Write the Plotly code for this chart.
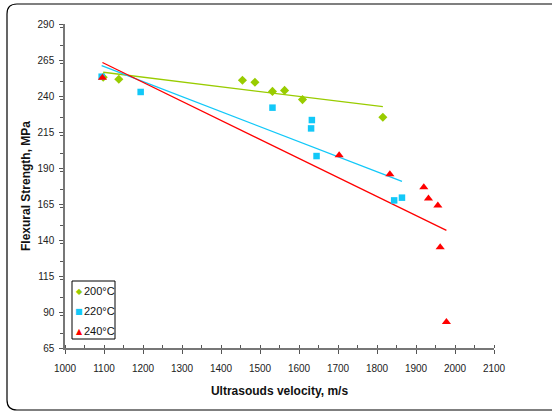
import numpy as np
import plotly.graph_objects as go

series_names = ["200°C", "220°C", "240°C"]
x_200 = [1098, 1138, 1455, 1487, 1532, 1563, 1609, 1815]
y_200 = [253.0, 251.6, 250.9, 249.5, 243.2, 243.9, 237.5, 225.2]
x_220 = [1094, 1194, 1532, 1633, 1631, 1645, 1844, 1864]
y_220 = [253.4, 242.8, 231.9, 223.3, 217.5, 198.3, 167.5, 169.4]
x_240 = [1096, 1703, 1833, 1920, 1932, 1956, 1962, 1978]
y_240 = [252.7, 198.8, 185.6, 176.6, 168.9, 163.9, 134.9, 83.1]

x_ticks = list(range(1000, 2101, 100))
y_ticks = list(range(65, 291, 25))

colors = ["#99cc00", "#12c8f8", "#ff0000"]
symbols = ["diamond", "square", "triangle-up"]
sizes = [7, 6.5, 8]
legend_glyphs = ["◆", "■", "▲"]

fig = go.Figure()
data = [(x_200, y_200), (x_220, y_220), (x_240, y_240)]

# trend lines (linear least squares fit over each series' range)
for (xs, ys), c in zip(data, colors):
    k, b = np.polyfit(xs, ys, 1)
    xl = np.array([min(xs), max(xs)])
    fig.add_trace(go.Scatter(x=xl, y=k * xl + b, mode="lines",
                             line=dict(color=c, width=1.3),
                             showlegend=False, hoverinfo="skip"))

for (xs, ys), name, c, s, sz in zip(data, series_names, colors, symbols, sizes):
    fig.add_trace(go.Scatter(x=xs, y=ys, mode="markers", name=name, showlegend=False,
                             marker=dict(color=c, symbol=s, size=sz, line=dict(width=0))))

FONT = "Liberation Sans, Arial, sans-serif"
axis_font = dict(family=FONT, size=10, color="#222222")
title_font = dict(family=FONT, size=12, color="#111111")

fig.update_xaxes(range=[1000, 2100], tickvals=x_ticks, ticktext=[str(v) for v in x_ticks],
                 showgrid=False, zeroline=False, showline=True, linecolor="#777777", linewidth=1.5,
                 ticks="outside", ticklen=4, tickcolor="#555555", tickwidth=1,
                 minor=dict(dtick=50, ticks="inside", ticklen=3, tickcolor="#555555", showgrid=False),
                 tickfont=axis_font, ticklabelstandoff=6,
                 title=dict(text="<b>Ultrasouds velocity, m/s</b>", font=title_font, standoff=14))
fig.update_yaxes(range=[65, 290], tickvals=y_ticks, ticktext=[str(v) for v in y_ticks],
                 showgrid=False, zeroline=False, showline=True, linecolor="#777777", linewidth=1.5,
                 ticks="outside", ticklen=4, tickcolor="#555555", tickwidth=1,
                 minor=dict(dtick=12.5, ticks="outside", ticklen=3, tickcolor="#555555", showgrid=False),
                 tickfont=axis_font, ticklabelstandoff=3,
                 title=dict(text="<b>Flexural Strength, MPa</b>", font=title_font, standoff=4))

# layout helpers: plot area is 429 x 324 px, starting at (65, 24)
W, H = 429.0, 324.0
def px(v):
    return (v - 65) / W
def py(v):
    return (348 - v) / H

# rounded outer frame
r = 10
L, R, T, B = 7, 560, 4, 410
path = (f"M {px(R)},{py(T)} L {px(L + r)},{py(T)} Q {px(L)},{py(T)} {px(L)},{py(T + r)} "
        f"L {px(L)},{py(B - r)} Q {px(L)},{py(B)} {px(L + r)},{py(B)} L {px(R)},{py(B)}")
fig.add_shape(type="path", path=path, xref="paper", yref="paper",
              line=dict(color="#000000", width=1.2))

# compact legend box like the original
fig.add_shape(type="rect", xref="paper", yref="paper",
              x0=px(72), x1=px(115), y0=py(281), y1=py(339),
              line=dict(color="#000000", width=1), fillcolor="white", layer="above")
for i, (name, c, g) in enumerate(zip(series_names, colors, legend_glyphs)):
    yc = py(291 + 20 * i)
    fig.add_annotation(xref="paper", yref="paper", x=px(79), y=yc, text=g, showarrow=False,
                       xanchor="center", yanchor="middle",
                       font=dict(family="DejaVu Sans", size=8, color=c))
    fig.add_annotation(xref="paper", yref="paper", x=px(84), y=yc, text=name, showarrow=False,
                       xanchor="left", yanchor="middle", xshift=-2,
                       font=dict(family=FONT, size=11, color="#111111"))

fig.update_layout(
    width=552, height=412,
    margin=dict(l=65, r=58, t=24, b=64),
    plot_bgcolor="white", paper_bgcolor="white",
    showlegend=False,
)

fig.write_html("out.html", config={"displayModeBar": False},
               post_script="document.body.style.margin='0px';")
